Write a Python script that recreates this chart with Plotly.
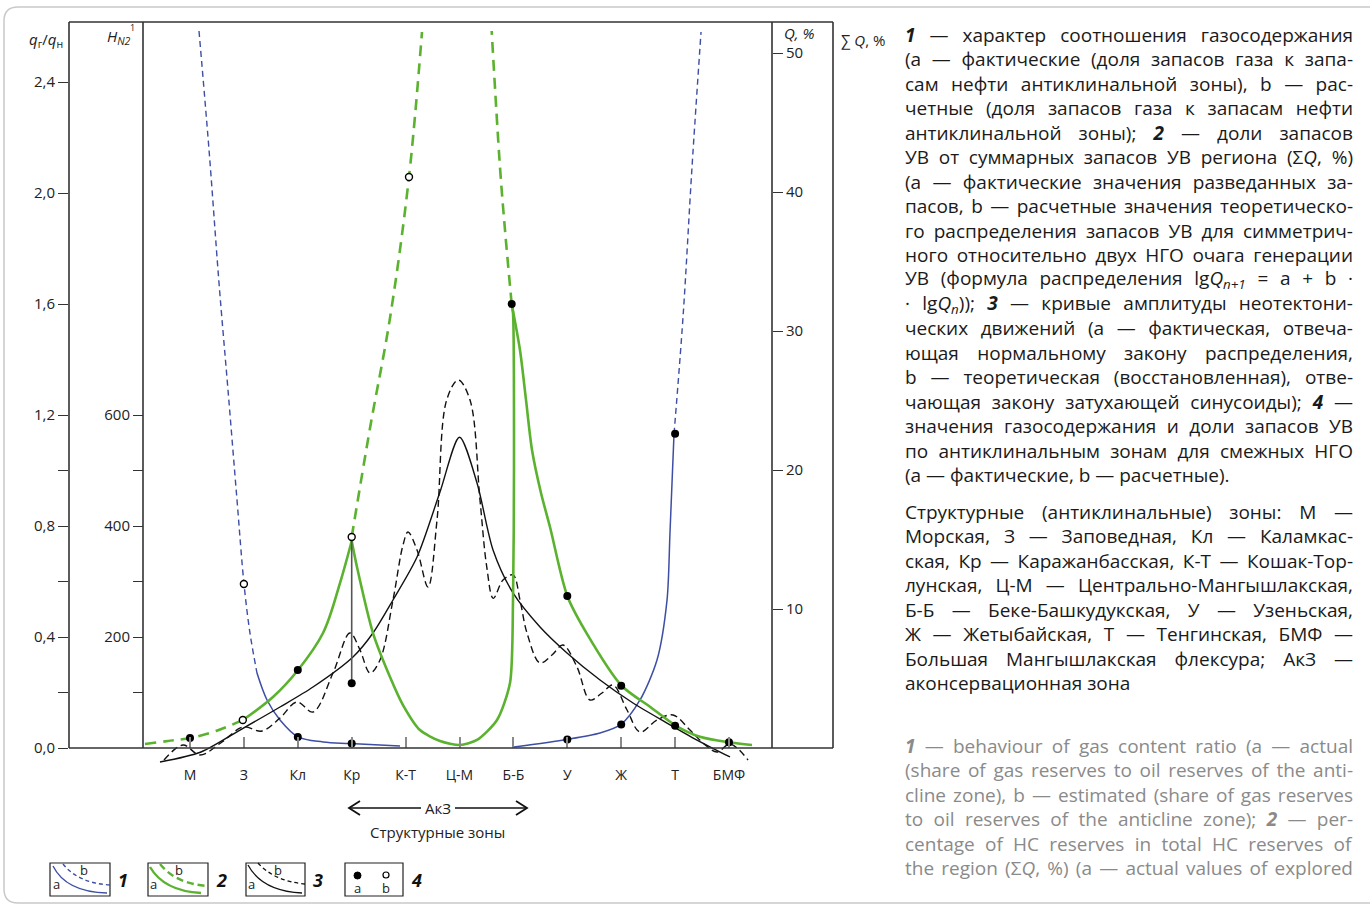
import json
import plotly.graph_objects as go

W, H = 1370, 906
FONT = "Open Sans"

# ---------------- data ----------------
ZONES = ["М", "З", "Кл", "Кр", "К-Т", "Ц-М", "Б-Б", "У", "Ж", "Т", "БМФ"]
ZONE_POS = list(range(len(ZONES)))

# axis ticks
QR_TICKS = [0.0, 0.4, 0.8, 1.2, 1.6, 2.0, 2.4]
QR_LABELS = ["0,0", "0,4", "0,8", "1,2", "1,6", "2,0", "2,4"]
QR_MINOR = [0.2, 0.6, 1.0]
H_TICKS = [200, 400, 600]
H_MINOR = [100, 300, 500]
Q_TICKS = [10, 20, 30, 40, 50]
SUMQ_TICKS = [0, 1, 2, 3, 4, 5]
SUMQ_LABELS = ["0", "20", "40", "50", "80", "100"]

# 1 - gas content ratio q_г/q_н (blue)
BLUE_L_DASH_X = [0.167, 0.353, 0.538, 0.705, 0.872, 1.002, 1.113, 1.243]
BLUE_L_DASH_Q = [2.584, 2.155, 1.676, 1.290, 0.894, 0.591, 0.414, 0.270]
BLUE_L_X = [1.243, 1.429, 1.670, 2.004, 2.468, 2.968, 3.896]
BLUE_L_Q = [0.270, 0.173, 0.101, 0.040, 0.022, 0.016, 0.007]
BLUE_R_X = [6.011, 6.994, 7.607, 7.996, 8.349, 8.664, 8.850, 8.905, 8.980]
BLUE_R_Q = [0.004, 0.031, 0.054, 0.085, 0.173, 0.317, 0.533, 0.775, 1.132]
BLUE_R_DASH_X = [8.980, 9.147, 9.314, 9.481]
BLUE_R_DASH_Q = [1.132, 1.553, 2.094, 2.580]
BLUE_DOT_X = [2, 3, 7, 8, 9]
BLUE_DOT_Q = [0.040, 0.016, 0.031, 0.085, 1.132]
BLUE_OPEN_X = [1.0]
BLUE_OPEN_Q = [0.591]

# 2 - share of HC reserves, Q % (green)
GREEN_L_DASH_X = [-0.835, -0.408, 0.0, 0.482, 0.98]
GREEN_L_DASH_Q = [0.288, 0.504, 0.719, 1.223, 2.014]
GREEN_L_X = [0.98, 1.540, 2.004, 2.468, 2.783, 3.0]
GREEN_L_Q = [2.014, 3.669, 5.612, 8.273, 11.87, 14.89]
GREEN_MID_X = [3.0, 3.098, 3.395, 3.711, 3.952, 4.267, 4.638, 5.009, 5.325,
               5.696, 5.937, 5.993, 6.011, 5.993, 5.968]
GREEN_MID_Q = [14.89, 13.02, 8.27, 5.11, 3.09, 1.29, 0.50, 0.216, 0.576,
               2.014, 4.676, 10.65, 20.22, 31.29, 31.94]
GREEN_R_X = [5.968, 6.122, 6.234, 6.345, 6.512, 6.679, 7.0, 7.360, 8.009,
             8.534, 9.017, 9.462, 10.006, 10.427]
GREEN_R_Q = [31.94, 28.63, 25.04, 21.44, 18.35, 15.90, 10.94, 8.25, 4.48,
             2.97, 1.60, 0.81, 0.41, 0.216]
GREEN_UP_L_X = [3.0, 3.340, 3.711, 4.063, 4.304]
GREEN_UP_L_Q = [15.18, 23.02, 30.94, 41.08, 51.51]
GREEN_UP_R_X = [5.968, 5.844, 5.751, 5.597]
GREEN_UP_R_Q = [31.94, 37.27, 41.80, 51.58]
GREEN_DOT_X = [0, 2, 3, 5.968, 7, 8, 9, 10]
GREEN_DOT_Q = [0.719, 5.612, 4.65, 31.94, 10.94, 4.48, 1.60, 0.41]
GREEN_OPEN_X = [0.98, 3, 4.063]
GREEN_OPEN_Q = [2.014, 15.18, 41.08]
KR_LINK_X = [3, 3]
KR_LINK_Q = [4.65, 15.18]

# 3 - neotectonic amplitude H (black)
BLACK_X = [-0.557, 0.204, 0.928, 1.670, 2.282, 3.024, 3.395, 3.766, 4.212,
           4.638, 5.0, 5.325, 5.622, 5.993, 6.494, 6.994, 7.607, 8.219,
           8.850, 9.406, 10.019]
BLACK_H = [-25.2, -7.2, 32.4, 73.9, 109.9, 164.0, 207.2, 266.7, 344.1,
           461.3, 560.0, 477.5, 356.8, 279.3, 218.0, 171.2, 122.5, 81.1,
           45.0, 14.4, -16.2]
BLACK_DASH_X = [-0.482, -0.130, 0.186, 0.594, 0.983, 1.336, 1.670, 1.985,
                2.282, 2.653, 2.968, 3.154, 3.340, 3.525, 3.766, 3.952,
                4.045, 4.212, 4.416, 4.583, 4.762, 4.978, 5.195, 5.380,
                5.505, 5.627, 5.807, 5.993, 6.122, 6.252, 6.494, 6.716,
                6.920, 7.180, 7.421, 7.644, 7.848, 8.108, 8.349, 8.664,
                8.961, 9.276, 9.518, 9.777, 10.019, 10.353]
BLACK_DASH_H = [-21.6, 5.4, -12.6, 10.8, 37.8, 30.6, 54.1, 82.9, 64.9,
                135.1, 207.2, 176.6, 135.1, 158.6, 266.7, 365.8, 389.2,
                356.8, 290.1, 410.8, 627.0, 663.1, 627.0, 446.8, 326.7,
                269.7, 302.7, 311.7, 266.7, 207.2, 153.2, 167.6, 185.6,
                145.9, 86.5, 99.1, 113.5, 68.5, 28.8, 50.5, 59.5, 32.4,
                9.0, -7.2, 7.2, -21.6]

# ---------------- geometry ----------------
def fx(p):
    return p / W


def fy(p):
    return 1 - p / H


X0, X1 = 69, 833            # frame left / right
XH, XQ = 143, 772           # inner axes
YT, YB, YL = 22, 748, 766   # frame top, base line, lowest drawn level
Z0, ZS = 190, 53.9          # first zone position, zone step
QR_PX = 277.5               # px per unit of q_г/q_н
Q_PX = 13.9                 # px per percent Q
SQ_PX = 83.2                # px per ΣQ mark

BLUE = "#3d4ea4"
GREEN = "#5bb22f"
INK = "#111111"
FRAME = "#333333"

fig = go.Figure()


def curve(x, y, axis, color, width, dash=None, smooth=1.0):
    fig.add_trace(go.Scatter(
        x=x, y=y, yaxis=axis, mode="lines", hoverinfo="skip", showlegend=False,
        line=dict(color=color, width=width, dash=dash, shape="spline", smoothing=smooth)))


def dots(x, y, axis, hollow=False):
    fig.add_trace(go.Scatter(
        x=x, y=y, yaxis=axis, mode="markers", hoverinfo="skip", showlegend=False,
        cliponaxis=False,
        marker=dict(size=7 if hollow else 8, color="white" if hollow else "black",
                    line=dict(color="black", width=1.4 if hollow else 0))))


# black neotectonic curves
curve(BLACK_X, BLACK_H, "y2", INK, 1.4, smooth=0.8)
curve(BLACK_DASH_X, BLACK_DASH_H, "y2", INK, 1.4, dash="7px,4px", smooth=1.0)

# blue gas-ratio curves
curve(BLUE_L_DASH_X, BLUE_L_DASH_Q, "y", BLUE, 1.4, dash="6px,4px")
curve(BLUE_L_X, BLUE_L_Q, "y", BLUE, 1.5)
curve(BLUE_R_X, BLUE_R_Q, "y", BLUE, 1.5, smooth=0.8)
curve(BLUE_R_DASH_X, BLUE_R_DASH_Q, "y", BLUE, 1.4, dash="6px,4px")

# green reserve-share curves
curve(GREEN_L_DASH_X, GREEN_L_DASH_Q, "y3", GREEN, 2.6, dash="11px,7px")
curve(GREEN_L_X, GREEN_L_Q, "y3", GREEN, 2.6)
curve(GREEN_MID_X, GREEN_MID_Q, "y3", GREEN, 2.6, smooth=0.7)
curve(GREEN_R_X, GREEN_R_Q, "y3", GREEN, 2.6, smooth=0.8)
curve(GREEN_UP_L_X, GREEN_UP_L_Q, "y3", GREEN, 2.6, dash="11px,7px")
curve(GREEN_UP_R_X, GREEN_UP_R_Q, "y3", GREEN, 2.6, dash="11px,7px")

fig.add_trace(go.Scatter(x=KR_LINK_X, y=KR_LINK_Q, yaxis="y3", mode="lines",
                         line=dict(color="#555555", width=1.6),
                         hoverinfo="skip", showlegend=False))

dots(BLUE_DOT_X, BLUE_DOT_Q, "y")
dots(GREEN_DOT_X, GREEN_DOT_Q, "y3")
dots(BLUE_OPEN_X, BLUE_OPEN_Q, "y", hollow=True)
dots(GREEN_OPEN_X, GREEN_OPEN_Q, "y3", hollow=True)

# ---------------- axes ----------------
tick_font = dict(family=FONT, size=15, color="#222222")
ydom = [fy(YL), fy(YT)]
qr_range = [(YB - YL) / QR_PX, (YB - YT) / QR_PX]
common = dict(showgrid=False, zeroline=False, showline=False, ticks="outside",
              ticklen=10, tickwidth=1.3, tickcolor=FRAME, tickfont=tick_font)

fig.update_layout(
    width=W, height=H,
    margin=dict(l=0, r=0, t=0, b=0),
    paper_bgcolor="white", plot_bgcolor="rgba(0,0,0,0)",
    font=dict(family=FONT, color="#222222"),
    showlegend=False,
    xaxis=dict(domain=[fx(X0), fx(X1)],
               range=[(X0 - Z0) / ZS, (X1 - Z0) / ZS],
               anchor="free", position=fy(YB),
               tickvals=ZONE_POS, ticktext=ZONES,
               showgrid=False, zeroline=False, showline=False,
               ticks="inside", ticklen=11, tickwidth=1.6, tickcolor="#8a8a8a",
               tickfont=dict(family=FONT, size=14, color="#222222"),
               ticklabelstandoff=17),
    yaxis=dict(domain=ydom, range=qr_range, anchor="x", side="left",
               tickvals=QR_TICKS, ticktext=QR_LABELS,
               minor=dict(tickvals=QR_MINOR, ticks="outside", ticklen=10,
                          tickwidth=1.3, tickcolor=FRAME, showgrid=False),
               **common),
    yaxis2=dict(domain=ydom, range=[v * 500 for v in qr_range], overlaying="y",
                anchor="free", position=fx(XH), side="left",
                tickvals=H_TICKS,
                minor=dict(tickvals=H_MINOR, ticks="outside", ticklen=10,
                           tickwidth=1.3, tickcolor=FRAME, showgrid=False),
                **common),
    yaxis3=dict(domain=ydom, range=[(YB - YL) / Q_PX, (YB - YT) / Q_PX],
                overlaying="y", anchor="free", position=fx(XQ), side="right",
                tickvals=Q_TICKS, **common),
    yaxis4=dict(domain=ydom, range=[(YB - YL) / SQ_PX, (YB - YT) / SQ_PX],
                overlaying="y", anchor="x", side="right",
                tickvals=SUMQ_TICKS, ticktext=SUMQ_LABELS, **common),
)

# ---------------- frame & decorations ----------------
shapes = []


def seg(x0, y0, x1, y1, color=FRAME, width=1.6, dash=None):
    shapes.append(dict(type="line", xref="paper", yref="paper",
                       x0=fx(x0), y0=fy(y0), x1=fx(x1), y1=fy(y1),
                       line=dict(color=color, width=width, dash=dash)))


def path(cmds, color, width=1.4, dash=None, fill=None):
    parts = []
    for c in cmds:
        op, pts = c[0], c[1:]
        coords = " ".join(f"{fx(pts[i]):.5f},{fy(pts[i + 1]):.5f}" for i in range(0, len(pts), 2))
        parts.append(f"{op} {coords}" if coords else op)
    shapes.append(dict(type="path", xref="paper", yref="paper", path=" ".join(parts),
                       line=dict(color=color, width=width, dash=dash),
                       fillcolor=fill or "rgba(0,0,0,0)"))


# page border
r = 14
path([("M", 4, 7 + r), ("Q", 4, 7, 4 + r, 7), ("L", 1400, 7),
      ("M", 4, 7 + r), ("L", 4, 903 - r), ("Q", 4, 903, 4 + r, 903), ("L", 1400, 903)],
     "#c9c9c9", width=1.5)

# chart frame
seg(X0, YT, X1, YT)
seg(X0, YB, X1, YB)
for xv in (X0, XH, XQ, X1):
    seg(xv, YT, xv, YB)

# АкЗ arrows
seg(349, 808, 421, 808, color="#111111", width=1.5)
seg(455, 808, 527, 808, color="#111111", width=1.5)
path([("M", 360, 801), ("L", 349, 808), ("L", 360, 815)], "#111111", width=1.8)
path([("M", 516, 801), ("L", 527, 808), ("L", 516, 815)], "#111111", width=1.8)

# legend keys
boxes = [(50, 110), (148, 208), (246, 305), (345, 403)]
for bx0, bx1 in boxes:
    path([("M", bx0, 863), ("L", bx1, 863), ("L", bx1, 896), ("L", bx0, 896), ("Z",)],
         "#222222", width=1.2)
path([("M", 53, 866), ("Q", 66, 892, 107, 893)], BLUE, width=1.4)
path([("M", 63, 864), ("Q", 78, 883, 110, 885)], BLUE, width=1.4, dash="4px,3px")
path([("M", 150, 867), ("Q", 164, 891, 201, 893)], GREEN, width=2.4)
path([("M", 160, 864), ("Q", 176, 884, 208, 886)], GREEN, width=2.4, dash="7px,4px")
path([("M", 248, 865), ("Q", 262, 891, 302, 893)], INK, width=1.3)
path([("M", 258, 863), ("Q", 274, 881, 305, 884)], INK, width=1.3, dash="4px,3px")
shapes.append(dict(type="circle", xref="paper", yref="paper",
                   x0=fx(354), x1=fx(361), y0=fy(879), y1=fy(872),
                   fillcolor="black", line=dict(color="black", width=1)))
shapes.append(dict(type="circle", xref="paper", yref="paper",
                   x0=fx(383), x1=fx(389), y0=fy(878), y1=fy(872),
                   fillcolor="white", line=dict(color="black", width=1.2)))

fig.update_layout(shapes=shapes)

# ---------------- texts ----------------
ann = []


def text(t, x, y, size=15, color="#222222", anchor="center", valign="middle", pad=1):
    ann.append(dict(text=t, x=fx(x), y=fy(y), xref="paper", yref="paper",
                    showarrow=False, xanchor=anchor, yanchor=valign, borderpad=pad,
                    align=anchor if anchor != "center" else "center",
                    font=dict(family=FONT, size=size, color=color)))
    return len(ann) - 1


text("<i>q</i><sub>г</sub>/<i>q</i><sub>н</sub>", 46, 40)
text("<i>H</i><sub><i>N2</i></sub>", 119, 37)
text("1", 132, 27, size=9)
text("<i>Q, %</i>", 799, 33)
text("∑ <i>Q</i>, %", 863, 40)
text("АкЗ", 438, 808)
text("Структурные зоны", 437, 832)

for lbl, lx in zip(["1", "2", "3", "4"], [123, 221, 318, 416]):
    text(f"<b><i>{lbl}</i></b>", lx, 880, size=18, color="#111111")
for ax_, ay_, lbl in [(56, 884, "a"), (84, 870, "b"), (153, 884, "a"), (179, 870, "b"),
                      (251, 884, "a"), (278, 870, "b"), (357, 888, "a"), (386, 888, "b")]:
    text(lbl, ax_, ay_, size=13)

RU_PARA_1 = [
    "<b><i>1</i></b> — характер соотношения газосодержания",
    "(а — фактические (доля запасов газа к запа-",
    "сам нефти антиклинальной зоны), b — рас-",
    "четные (доля запасов газа к запасам нефти",
    "антиклинальной зоны); <b><i>2</i></b> — доли запасов",
    "УВ от суммарных запасов УВ региона (Σ<i>Q</i>, %)",
    "(а — фактические значения разведанных за-",
    "пасов, b — расчетные значения теоретическо-",
    "го распределения запасов УВ для симметрич-",
    "ного относительно двух НГО очага генерации",
    "УВ (формула распределения lg<i>Q</i><sub><i>n+1</i></sub> = a + b ·",
    "· lg<i>Q</i><sub><i>n</i></sub>)); <b><i>3</i></b> — кривые амплитуды неотектони-",
    "ческих движений (а — фактическая, отвеча-",
    "ющая нормальному закону распределения,",
    "b — теоретическая (восстановленная), отве-",
    "чающая закону затухающей синусоиды); <b><i>4</i></b> —",
    "значения газосодержания и доли запасов УВ",
    "по антиклинальным зонам для смежных НГО",
    "(а — фактические, b — расчетные).",
]
RU_PARA_2 = [
    "Структурные (антиклинальные) зоны: М —",
    "Морская, З — Заповедная, Кл — Каламкас-",
    "ская, Кр — Каражанбасская, К-Т — Кошак-Тор-",
    "лунская, Ц-М — Центрально-Мангышлакская,",
    "Б-Б — Беке-Башкудукская, У — Узеньская,",
    "Ж — Жетыбайская, Т — Тенгинская, БМФ —",
    "Большая Мангышлакская флексура; АкЗ —",
    "аконсервационная зона",
]
EN_PARA = [
    "<b><i>1</i></b> — behaviour of gas content ratio (a — actual",
    "(share of gas reserves to oil reserves of the anti-",
    "cline zone), b — estimated (share of gas reserves",
    "to oil reserves of the anticline zone); <b><i>2</i></b> — per-",
    "centage of HC reserves in total HC reserves of",
    "the region (Σ<i>Q</i>, %) (a — actual values of explored",
]

TX0, TX1, LH = 904, 1352, 24.45
justify = {}
for block, y0, color, last_free in [(RU_PARA_1, 35, "#1a1a1a", True),
                                    (RU_PARA_2, 512, "#1a1a1a", True),
                                    (EN_PARA, 746, "#8a8a8a", False)]:
    for i, line in enumerate(block):
        idx = text(line, TX0, y0 + i * LH, size=19, color=color, anchor="left", pad=0)
        if not (last_free and i == len(block) - 1):
            justify[idx] = TX1 - TX0

fig.update_layout(annotations=ann)

# spread words so each full line of the caption fills the column width
POST = """
var gd = document.getElementById('{plot_id}');
var widths = %s;
Object.keys(widths).forEach(function (k) {
  var t = gd.querySelector('g.annotation[data-index="' + k + '"] text.annotation-text');
  if (!t) return;
  var n = (t.textContent.match(/ /g) || []).length;
  if (!n) return;
  var w = t.getBBox().width;
  t.style.wordSpacing = ((widths[k] - w) / n) + 'px';
});
""" % json.dumps(justify)

fig.write_html("out.html", post_script=POST)
